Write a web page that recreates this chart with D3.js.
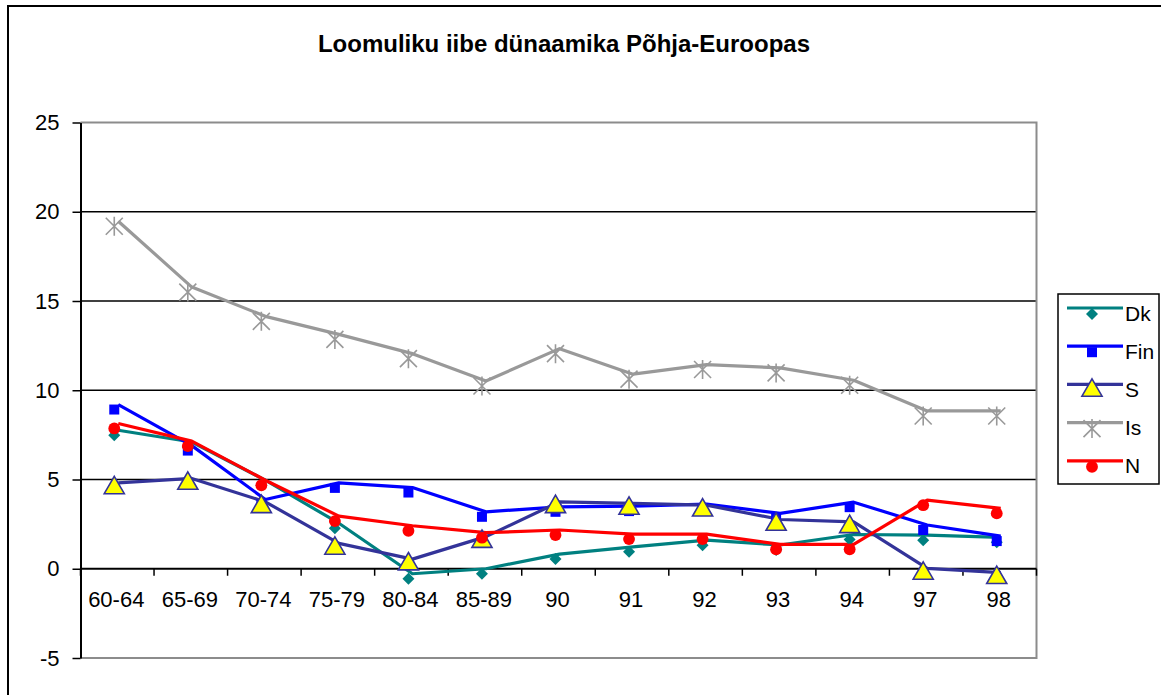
<!DOCTYPE html>
<html><head><meta charset="utf-8">
<script src="https://cdn.jsdelivr.net/npm/d3@7"></script>
<style>body{margin:0;background:#fff}svg{display:block}</style>
</head><body>
<svg id="c" width="1161" height="695"></svg>
<script>
const title = "Loomuliku iibe dünaamika Põhja-Euroopas";
const categories = ["60-64","65-69","70-74","75-79","80-84","85-89","90","91","92","93","94","97","98"];
const yTicks = [-5,0,5,10,15,20,25];
const seriesNames = ["Dk","Fin","S","Is","N"];
const dk  = [7.76,7.1,4.96,2.55,-0.28,0.0,0.82,1.23,1.6,1.33,1.92,1.88,1.76];
const fin = [9.2,6.9,3.88,4.81,4.55,3.19,3.47,3.51,3.62,3.1,3.73,2.45,1.83];
const s   = [4.81,5.06,3.75,1.42,0.54,1.8,3.75,3.66,3.56,2.76,2.63,0.02,-0.22];
const is  = [19.47,15.78,14.14,13.13,12.05,10.52,12.33,10.9,11.44,11.25,10.56,8.84,8.84];
const n   = [8.14,7.15,4.96,2.95,2.41,2.02,2.17,1.94,1.94,1.37,1.37,3.84,3.38];

const seriesData = [dk, fin, s, is, n];
const styles = [
  {color:"#008080", marker:"diamond", fill:"#008080", stroke:"none"},
  {color:"#0000FF", marker:"square", fill:"#0000FF", stroke:"none"},
  {color:"#333399", marker:"triangle", fill:"#FFFF00", stroke:"#333399"},
  {color:"#999999", marker:"star", fill:"none", stroke:"#999999"},
  {color:"#FF0000", marker:"circle", fill:"#FF0000", stroke:"none"}
];

const svg = d3.select("#c");
const font = "Arial, 'Liberation Sans', sans-serif";
const L = 80.5, R = 1036.5, T = 122.5, B = 658;

// outer frame
svg.append("rect").attr("x",8).attr("y",6).attr("width",1170).attr("height",710)
  .attr("fill","#fff").attr("stroke","#000").attr("stroke-width",2);

svg.append("text").attr("x",564).attr("y",52).attr("text-anchor","middle")
  .attr("font-family",font).attr("font-weight","bold").attr("font-size",24)
  .text(title);

const x = d3.scaleBand().domain(categories).range([L,R]).padding(0);
const y = d3.scaleLinear().domain([-5,25]).range([B,T]);
const cx = c => x(c) + x.bandwidth()/2;

// gridlines
svg.append("g").selectAll("line").data(yTicks.filter(v=>v>-5 && v<25 && v!==0)).join("line")
  .attr("x1",L).attr("x2",R).attr("y1",d=>y(d)).attr("y2",d=>y(d))
  .attr("stroke","#000").attr("stroke-width",1.5);
// plot border (top, right, bottom) gray
svg.append("path").attr("d",`M${L},${y(25)}H${R}V${y(-5)}H${L}`)
  .attr("fill","none").attr("stroke","#8c8c8c").attr("stroke-width",2);

// y axis
const ya = svg.append("g").attr("transform",`translate(${L},0)`)
  .call(d3.axisLeft(y).tickValues(yTicks).tickSize(8).tickSizeOuter(0).tickPadding(13)
    .tickFormat(d => String(d)));
ya.select(".domain").attr("stroke","#000").attr("stroke-width",2);
ya.selectAll(".tick line").attr("stroke","#000").attr("stroke-width",1.5);
ya.selectAll(".tick text").attr("font-family",font).attr("font-size",22).attr("fill","#000");

// x axis at 0
svg.append("line").attr("x1",L).attr("x2",R).attr("y1",y(0)).attr("y2",y(0))
  .attr("stroke","#000").attr("stroke-width",2);
const bounds = categories.map(c=>x(c)).concat([R]);
svg.append("g").selectAll("line").data(bounds).join("line")
  .attr("x1",d=>d).attr("x2",d=>d).attr("y1",y(0)).attr("y2",y(0)+7)
  .attr("stroke","#000").attr("stroke-width",1.5);
svg.append("g").selectAll("text").data(categories).join("text")
  .attr("x",d=>cx(d)-1).attr("y",y(0)+32).attr("text-anchor","middle")
  .attr("dominant-baseline","middle")
  .attr("font-family",font).attr("font-size",22).text(d=>d);

function drawMarker(g, type, st){
  if(type==="star"){
    const r=8.5;
    g.append("path").attr("d",`M${-r},${-r}L${r},${r}M${-r},${r}L${r},${-r}M0,${-r-1}L0,${r+1}`)
      .attr("stroke",st.stroke).attr("stroke-width",1.6).attr("fill","none");
    return;
  }
  if(type==="diamond"){
    const r=6;
    g.append("path").attr("d",`M0,${-r}L${r},0L0,${r}L${-r},0Z`).attr("fill",st.fill);
    return;
  }
  let sym, size;
  if(type==="square"){ sym=d3.symbolSquare; size=100; }
  else if(type==="triangle"){ sym=d3.symbolTriangle; size=175; }
  else { sym=d3.symbolCircle; size=110; }
  g.append("path").attr("d",d3.symbol().type(sym).size(size)())
    .attr("fill",st.fill).attr("stroke",st.stroke).attr("stroke-width",st.stroke==="none"?0:1.6);
}

const line = d3.line().x((d,i)=>cx(categories[i])+1).y(d=>y(d));
const mdx=-3, mdy=5;
const drawOrder = [3,0,1,2,4];
drawOrder.forEach(k=>{
  const st=styles[k], vals=seriesData[k];
  svg.append("path").datum(vals).attr("d",line).attr("fill","none")
    .attr("stroke",st.color).attr("stroke-width",3.2).attr("stroke-linejoin","round");
});
drawOrder.forEach(k=>{
  const st=styles[k], vals=seriesData[k];
  const mg = svg.append("g");
  vals.forEach((v,i)=>{
    const g = mg.append("g").attr("transform",`translate(${cx(categories[i])+mdx},${y(v)+mdy})`);
    drawMarker(g, st.marker, st);
  });
});

// legend
const lg = svg.append("g");
lg.append("rect").attr("x",1058).attr("y",294).attr("width",101).attr("height",190)
  .attr("fill","#fff").attr("stroke","#000").attr("stroke-width",1.5);
seriesNames.forEach((name,i)=>{
  const st=styles[i], ly=308+i*38.2;
  lg.append("line").attr("x1",1067).attr("x2",1123).attr("y1",ly).attr("y2",ly)
    .attr("stroke",st.color).attr("stroke-width",3.2);
  const g=lg.append("g").attr("transform",`translate(${1092},${ly+6})`);
  drawMarker(g, st.marker, st);
  lg.append("text").attr("x",1125).attr("y",ly+7).attr("dominant-baseline","middle")
    .attr("font-family",font).attr("font-size",21).text(name);
});
</script>
</body></html>
